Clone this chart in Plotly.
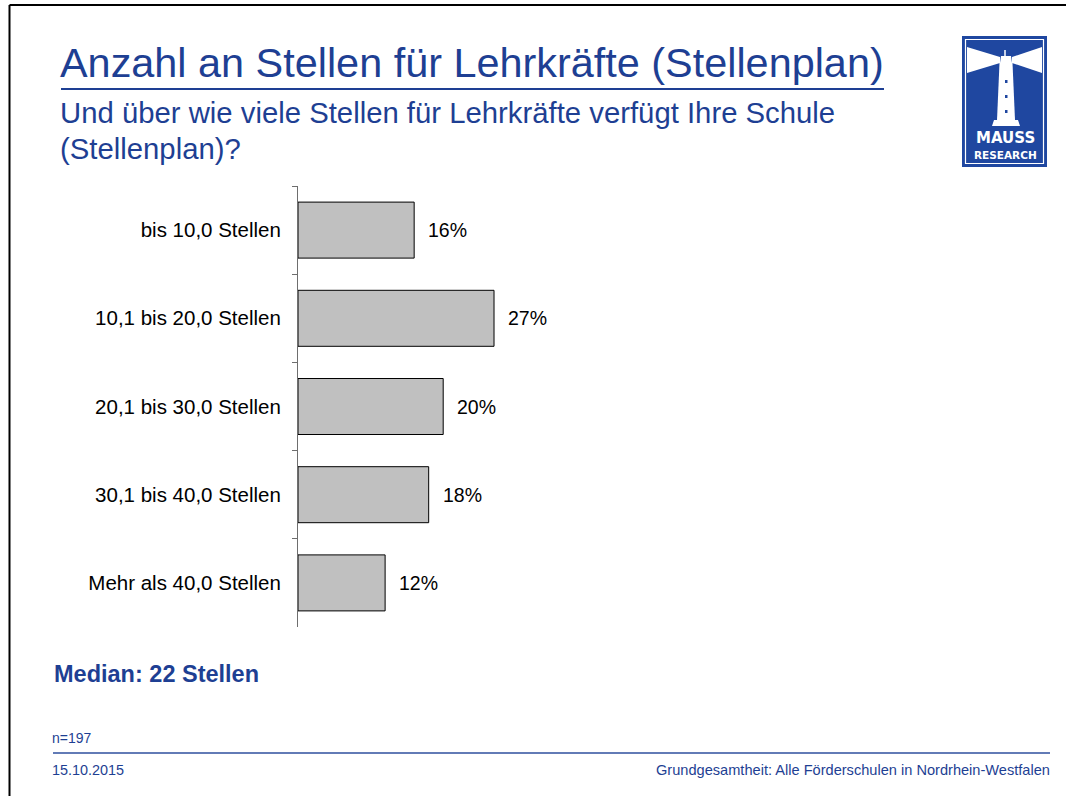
import plotly.graph_objects as go

categories = ["bis 10,0 Stellen", "10,1 bis 20,0 Stellen", "20,1 bis 30,0 Stellen",
              "30,1 bis 40,0 Stellen", "Mehr als 40,0 Stellen"]
values = [16, 27, 20, 18, 12]
value_labels = ["16%", "27%", "20%", "18%", "12%"]

title_text = "Anzahl an Stellen für Lehrkräfte (Stellenplan)"
subtitle_lines = ["Und über wie viele Stellen für Lehrkräfte verfügt Ihre Schule", "(Stellenplan)?"]
median_text = "Median: 22 Stellen"
n_text = "n=197"
date_text = "15.10.2015"
footer_text = "Grundgesamtheit: Alle Förderschulen in Nordrhein-Westfalen"

W, H = 1066, 796
L, R, T, B = 298, 42, 186, 169
PW, PH = W - L - R, H - T - B
BLUE = "#1E3F93"
FONT = "Liberation Sans, Arial, sans-serif"


def px(x):
    return (x - L) / PW


def py(y):
    return 1 - (y - T) / PH


fig = go.Figure()
fig.add_trace(go.Bar(
    x=values, y=categories, orientation="h",
    marker=dict(color="#C0C0C0", line=dict(color="#000000", width=1)),
    width=0.635, hoverinfo="skip",
))

annotations = []
for c, v, lab in zip(categories, values, value_labels):
    annotations.append(dict(x=v, y=c, xref="x", yref="y", text=lab, showarrow=False,
                            xanchor="left", yanchor="middle", xshift=12,
                            font=dict(family=FONT, size=19.5, color="#000000")))


def txt(x, y, text, size, color=BLUE, anchor="left", bold=False, family=FONT):
    if bold:
        text = "<b>" + text + "</b>"
    annotations.append(dict(x=px(x), y=py(y), xref="paper", yref="paper", text=text,
                            showarrow=False, xanchor=anchor, yanchor="middle",
                            font=dict(family=family, size=size, color=color)))


txt(58, 63, title_text, 41.4)
txt(58, 113, subtitle_lines[0], 29.3)
txt(58, 148, subtitle_lines[1], 29.3)
txt(52, 674, median_text, 23.5, bold=True)
txt(50, 738, n_text, 14)
txt(50, 770, date_text, 14.4)
txt(1052, 770, footer_text, 14.6, anchor="right")

shapes = []


def rect(x0, y0, x1, y1, fill=None, line=None, lw=0):
    shapes.append(dict(type="rect", xref="paper", yref="paper",
                       x0=px(x0), x1=px(x1), y0=py(y0), y1=py(y1),
                       fillcolor=fill if fill else "rgba(0,0,0,0)",
                       line=dict(color=line if line else "rgba(0,0,0,0)", width=lw), layer="above"))


def line(x0, y0, x1, y1, color, lw):
    shapes.append(dict(type="line", xref="paper", yref="paper",
                       x0=px(x0), x1=px(x1), y0=py(y0), y1=py(y1),
                       line=dict(color=color, width=lw), layer="above"))


def poly(points, fill):
    p = "M " + " L ".join(f"{px(a)},{py(b)}" for a, b in points) + " Z"
    shapes.append(dict(type="path", xref="paper", yref="paper", path=p,
                       fillcolor=fill, line=dict(width=0), layer="above"))


# slide frame
line(9.5, 5, 1066, 5, "#000000", 2)
line(9.5, 5, 9.5, 796, "#000000", 2)
# title underline
line(61, 89, 884, 89, BLUE, 2)
# footer rule
line(53, 753, 1050, 753, "#2E4F9E", 1.5)

# logo
rect(962, 36, 1047, 167, fill="#1F47A0")
rect(965.5, 39.5, 1043.5, 163.5, line="#FFFFFF", lw=1.2)
poly([(967, 47), (1000, 57), (1000, 63), (967, 73)], "#FFFFFF")
poly([(1012, 57), (1042, 47), (1042, 73), (1012, 63)], "#FFFFFF")
poly([(1001, 56), (1011, 56), (1012, 63), (1000, 63)], "#FFFFFF")
poly([(999.5, 63), (1012.5, 63), (1015, 120), (997, 120)], "#FFFFFF")
poly([(994, 120), (1018, 120), (1020, 126), (992, 126)], "#FFFFFF")
line(1005, 50, 1005, 56, "#FFFFFF", 1.5)
for wy in (80, 95, 110):
    rect(1005, wy, 1007.5, wy + 3, fill="#1F47A0")
annotations.append(dict(x=px(1005), y=py(138), xref="paper", yref="paper", text="<b>MAUSS</b>",
                        showarrow=False, xanchor="center", yanchor="middle",
                        font=dict(family="DejaVu Sans", size=15, color="#FFFFFF")))
annotations.append(dict(x=px(1005), y=py(155), xref="paper", yref="paper", text="<b>RESEARCH</b>",
                        showarrow=False, xanchor="center", yanchor="middle",
                        font=dict(family="DejaVu Sans", size=10.5, color="#FFFFFF")))

fig.update_layout(
    width=W, height=H,
    margin=dict(l=L, r=R, t=T, b=B, pad=0),
    paper_bgcolor="#FFFFFF", plot_bgcolor="#FFFFFF",
    showlegend=False,
    annotations=annotations,
    shapes=shapes,
    xaxis=dict(range=[0, 100], visible=False, fixedrange=True),
    yaxis=dict(categoryorder="array", categoryarray=categories, autorange="reversed",
               showline=True, linecolor="#6E6E6E", linewidth=1,
               ticks="outside", ticklen=5, tickcolor="#6E6E6E", tickwidth=1,
               tickson="boundaries", showgrid=False, zeroline=False,
               ticklabelstandoff=12,
               tickfont=dict(family=FONT, size=20.5, color="#000000"),
               fixedrange=True),
)

fig.write_html("out.html")
